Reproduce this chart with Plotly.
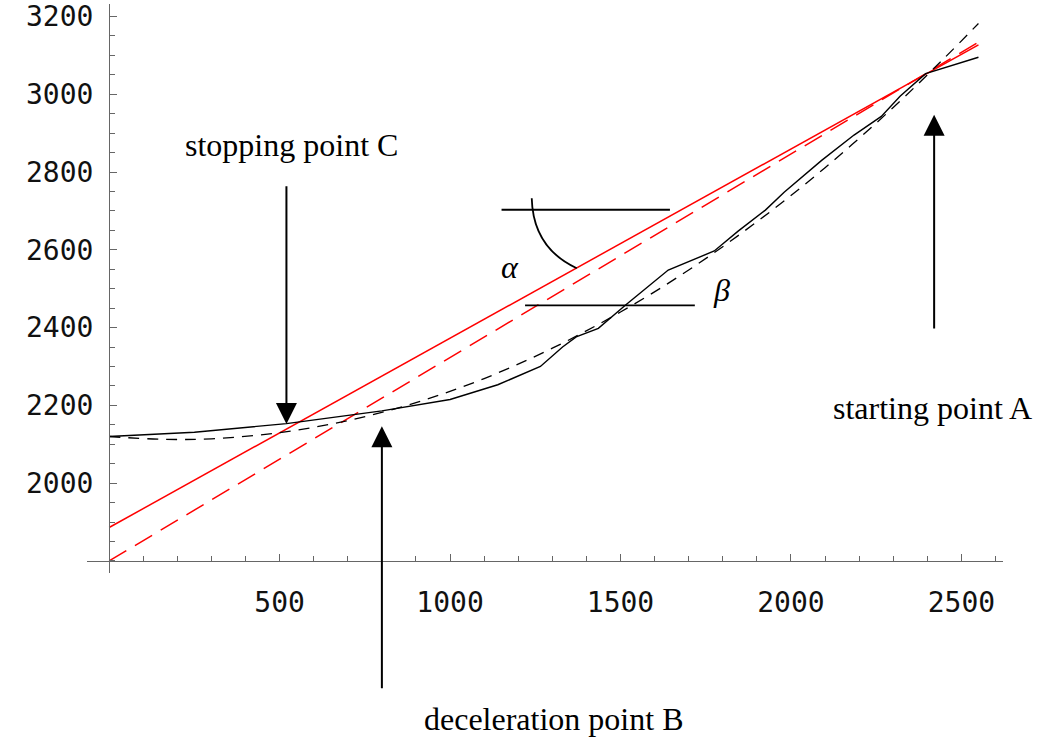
import plotly.graph_objects as go

# measured profile (black solid)
solid_x = [0, 250, 520, 800, 1000, 1140, 1265, 1330, 1370, 1435, 1515, 1640, 1775, 1845, 1925, 1980, 2090, 2185, 2265, 2320, 2395, 2550]
solid_y = [2120, 2131, 2153, 2186, 2215, 2253, 2300, 2350, 2376, 2398, 2458, 2548, 2597, 2648, 2702, 2748, 2830, 2895, 2943, 2995, 3053, 3095]

# fitted profile (black dashed)
fit_x = [0, 150, 300, 500, 700, 900, 1100, 1300, 1500, 1700, 1900, 2100, 2300, 2450, 2550]
fit_y = [2120, 2113, 2114, 2130, 2161, 2207, 2269, 2347, 2440, 2548, 2672, 2811, 2966, 3093, 3182]

# straight lines (red)
line1_x = [0, 2550]
line1_y = [1886, 3127]
line2_x = [0, 2550]
line2_y = [1800, 3134]

x_ticks = [500, 1000, 1500, 2000, 2500]
y_ticks = [2000, 2200, 2400, 2600, 2800, 3000, 3200]

fig = go.Figure()
fig.add_trace(go.Scatter(x=line1_x, y=line1_y, mode='lines',
                         line=dict(color='#ff0000', width=1.5)))
fig.add_trace(go.Scatter(x=line2_x, y=line2_y, mode='lines',
                         line=dict(color='#ff0000', width=1.5, dash='20px,10px')))
fig.add_trace(go.Scatter(x=fit_x, y=fit_y, mode='lines', line_shape='spline',
                         line=dict(color='black', width=1.3, dash='11px,8px')))
fig.add_trace(go.Scatter(x=solid_x, y=solid_y, mode='lines',
                         line=dict(color='black', width=1.4)))

axis_col = '#666666'
tick_font = dict(family='DejaVu Sans Mono', size=28, color='#111111')

fig.update_layout(
    width=1039, height=737,
    margin=dict(l=87, r=36, t=4, b=164, autoexpand=False),
    plot_bgcolor='white', paper_bgcolor='white',
    showlegend=False,
    xaxis=dict(range=[-65, 2622], showgrid=False, zeroline=False, automargin=False,
               showline=True, linecolor=axis_col, linewidth=1.3,
               anchor='free', position=31 / 1463,
               ticks='inside', ticklen=7, tickwidth=1.2, tickcolor=axis_col,
               tickvals=x_ticks, ticktext=[str(v) for v in x_ticks],
               tickfont=tick_font, ticklabelstandoff=16,
               minor=dict(dtick=100, tick0=0, ticks='inside', ticklen=4.5,
                          tickcolor=axis_col, tickwidth=1)),
    yaxis=dict(range=[1769, 3232], showgrid=False, zeroline=False, automargin=False,
               showline=True, linecolor=axis_col, linewidth=1.3,
               anchor='free', position=65 / 2687,
               ticks='inside', ticklen=7, tickwidth=1.2, tickcolor=axis_col,
               tickvals=y_ticks, ticktext=[str(v) for v in y_ticks],
               tickfont=tick_font, ticklabelstandoff=10,
               minor=dict(dtick=50, tick0=0, ticks='inside', ticklen=4.5,
                          tickcolor=axis_col, tickwidth=1)),
)

label_font = dict(family='Liberation Serif', size=32, color='black')
greek_font = dict(family='Liberation Serif', size=32, color='black', style='italic')

arrow_common = dict(xref='x', yref='y', axref='x', ayref='y', text='',
                    showarrow=True, arrowhead=2, arrowsize=2.1, arrowwidth=2,
                    arrowcolor='black', standoff=0)
annotations = [
    dict(x=520, y=2152, ax=520, ay=2767, **arrow_common),
    dict(x=800, y=2146, ax=800, ay=1469, **arrow_common),
    dict(x=2420, y=2947, ax=2420, ay=2394, **arrow_common),
    dict(x=534, y=2870, xref='x', yref='y', text='stopping point C', showarrow=False,
         font=label_font, xanchor='center', yanchor='middle'),
    dict(x=2416, y=2194, xref='x', yref='y', text='starting point A', showarrow=False,
         font=label_font, xanchor='center', yanchor='middle'),
    dict(x=1302, y=-0.2566, xref='x', yref='paper', text='deceleration point B', showarrow=False,
         font=label_font, xanchor='center', yanchor='middle'),
    dict(x=1176, y=2555, xref='x', yref='y', text='α', showarrow=False,
         font=greek_font, xanchor='center', yanchor='middle'),
    dict(x=1796, y=2497, xref='x', yref='y', text='β', showarrow=False,
         font=greek_font, xanchor='center', yanchor='middle'),
]
fig.update_layout(annotations=annotations)

shapes = [
    dict(type='line', xref='x', yref='y', x0=1151, x1=1645, y0=2703, y1=2703,
         line=dict(color='black', width=1.8)),
    dict(type='line', xref='x', yref='y', x0=1220, x1=1718, y0=2457, y1=2457,
         line=dict(color='black', width=1.8)),
    dict(type='path', xref='x', yref='y',
         path='M 1239.6,2732.6 Q 1243.4,2604.9 1371.6,2552.7',
         line=dict(color='black', width=1.8)),
]
fig.update_layout(shapes=shapes)

fig.write_html('out.html', config={'displayModeBar': False},
               post_script="document.body.style.margin='0';document.body.style.overflow='hidden';")
